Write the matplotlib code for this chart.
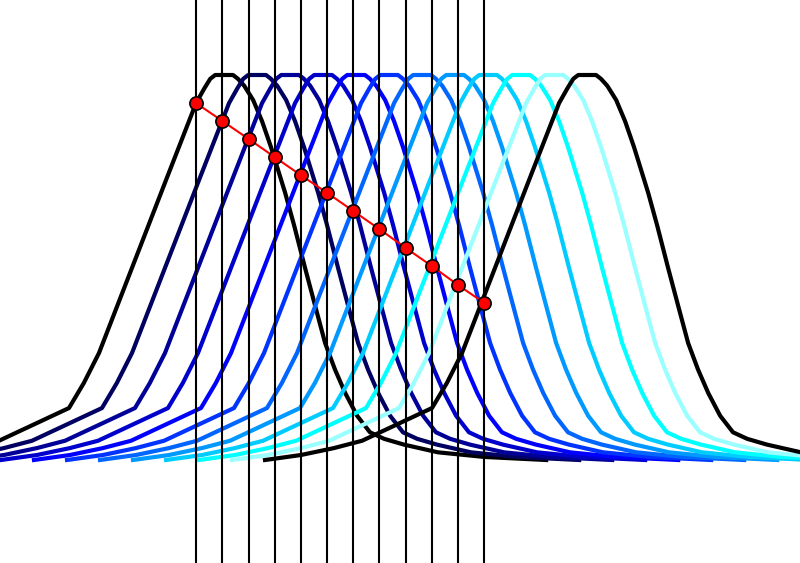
import numpy as np
import matplotlib
matplotlib.use("Agg")
import matplotlib.pyplot as plt

# one bump profile (offset from its centre, height)
prof_x = [-9.76, -8.67, -7.67, -6.82, -4.70, -4.25, -3.79, -1.76, -0.85, -0.60, -0.42, -0.27,
          0.27, 0.42, 0.61, 0.88, 1.15, 1.42, 1.85, 2.12, 2.45, 2.76, 3.06, 3.36, 3.67,
          4.03, 4.42, 4.85, 5.45, 6.48, 7.88, 9.76]
prof_y = [0.0, 0.013, 0.031, 0.05, 0.135, 0.20, 0.278, 0.727, 0.927, 0.965, 0.99, 1.0,
          1.0, 0.99, 0.972, 0.935, 0.88, 0.813, 0.694, 0.61, 0.50, 0.40, 0.304, 0.235, 0.174,
          0.115, 0.072, 0.055, 0.04, 0.02, 0.008, 0.0]

# each copy is shifted by one step
centers = [0, 1, 2, 3, 4, 5, 6, 7, 8, 9, 10, 11]
colors = ['black', '#000060', '#000099', '#0000cc', '#0000ff', '#0033ff',
          '#0066ff', '#0099ff', '#00ccff', '#00ffff', '#99ffff', 'black']

# sampling lines and the sampled values
line_x = [-0.85, -0.06, 0.74, 1.53, 2.32, 3.12, 3.91, 4.70, 5.50, 6.29, 7.08, 7.88]
dot_y = [0.927, 0.881, 0.834, 0.787, 0.740, 0.694, 0.647, 0.600, 0.551, 0.504, 0.455, 0.408]

fig = plt.figure(figsize=(8, 5.63), dpi=100)
ax = fig.add_axes([0, 0, 1, 1])

px = np.array(prof_x)
for c, col in zip(centers, colors):
    ax.plot(px + c, prof_y, color=col, lw=3.0, solid_joinstyle='round')

for x in line_x:
    ax.axvline(x, color='black', lw=1.5)

ax.plot(line_x, dot_y, color='red', lw=1.5, marker='o', ms=9.5,
        mfc='red', mec='black', mew=1.2)

ax.set_xlim(-6.79, 17.45)
ax.set_ylim(-0.2675, 1.1948)
ax.axis('off')

fig.savefig('out.png', dpi=100)
